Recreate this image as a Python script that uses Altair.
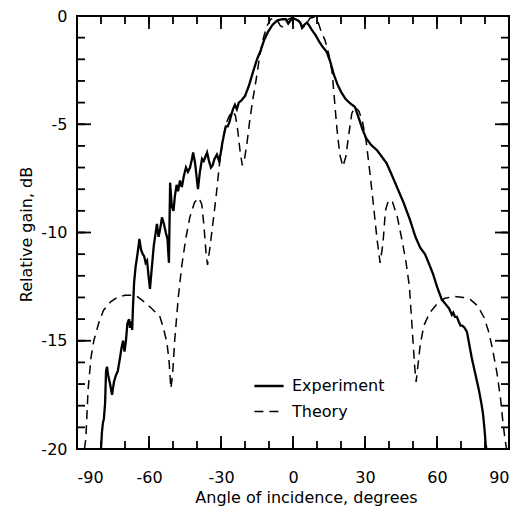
import altair as alt
import pandas as pd

# ---- data ----
exp_x = [-80, -79.6, -79.2, -78.8, -78.3, -77.9, -77.5, -77, -76.2, -75.4, -74.6, -73.8, -73, -72.1,
         -71.4, -70.8, -70.2, -69.6, -69, -68.3, -67.9, -67.4, -67, -66.7, -66.2, -65.6, -64.8, -64,
         -63.3, -62.6, -62, -61.4, -60.8, -60.2, -59.6, -58.8, -58, -57.2, -56.7, -56, -55.3, -54.6,
         -53.8, -53, -52.3, -51.7, -51.2, -50.5, -49.8, -49.2, -48.5, -47.9, -47.1, -46.3, -45.5,
         -44.6, -43.8, -42.9, -42.1, -41.6, -40.8, -40, -39.6, -38.8, -37.9, -37.2, -36.5, -35.8,
         -35, -34.2, -33.5, -32.7, -31.7, -30.8, -30.2, -29.5, -28.8, -28, -27.2, -26.5, -25.8, -25,
         -24.2, -23.4, -22.6, -21.5, -20, -18.3, -16.7, -15, -13.5, -12, -10.5, -8.5, -6.5, -4.5, -3,
         -2, -1, 0, 1, 2, 3, 3.8, 4.8, 5.8, 6.8, 7.9, 9.5, 11, 12.5, 14, 15.5, 17, 18.5, 20, 22, 24,
         25.8, 27.5, 29, 30.5, 32.5, 35, 37, 39, 41, 43.3, 46, 48.7, 51, 53, 55, 56.5, 58.3, 60, 62,
         63.5, 65, 66.2, 66.8, 67.5, 68.3, 69, 69.8, 70.5, 71.5, 72.5, 73.5, 74.5, 75.5, 76.5, 77.5,
         78.5, 79.2, 79.8, 80.3, 80.6]
exp_y = [-20, -19.2, -18.8, -18.6, -17.9, -16.4, -16.2, -16.6, -17.0, -17.5, -16.9, -16.6, -16.4, -15.8,
         -15.3, -15.0, -15.5, -15.0, -14.2, -14.0, -14.4, -14.1, -14.5, -13.5, -12.3, -11.6, -11.0, -10.3,
         -10.8, -11.0, -11.1, -11.4, -11.3, -12.0, -12.6, -11.6, -10.6, -10.0, -9.6, -10.2, -9.8, -9.3,
         -9.6, -10.0, -10.3, -11.4, -7.7, -8.8, -9.0, -8.3, -7.8, -8.1, -7.6, -7.9, -7.4,
         -7.0, -7.2, -7.0, -6.6, -6.3, -6.8, -7.6, -8.0, -7.2, -6.6, -6.7, -6.5, -6.3,
         -6.7, -7.0, -6.9, -6.6, -6.4, -6.7, -6.4, -5.9, -5.5, -5.1, -5.1, -4.9, -4.6, -4.3,
         -4.1, -4.3, -4.0, -3.9, -3.7, -3.2, -2.6, -2.0, -1.6, -1.1, -0.75, -0.4, -0.2, -0.15, -0.15,
         -0.35, -0.2, -0.1, -0.15, -0.2, -0.3, -0.55, -0.4, -0.3, -0.45, -0.65, -0.9, -1.2, -1.45, -1.65,
         -2.1, -2.7, -3.15, -3.5, -3.85, -4.05,
         -4.2, -4.75, -5.25, -5.65, -5.95, -6.2, -6.5, -6.8, -7.3, -7.9, -8.6, -9.4, -10.2, -10.7, -11.0,
         -11.4, -11.9, -12.5, -13.1,
         -13.3, -13.5, -13.8, -13.7, -13.9, -13.9, -14.1, -14.3, -14.3, -14.4, -14.6, -15.2, -15.8, -16.3,
         -16.8, -17.3, -17.9, -18.4, -19.1, -19.8, -20]

th_x = [-86.9, -86.3, -85.4, -84.2, -83, -81, -79, -76, -73.3, -70, -67, -65, -62, -59, -55.4, -53.8,
        -52.5, -51.6, -50.9, -50.2, -49.3, -47.8, -46.3, -44.7, -43, -41, -39.2, -38, -37.1, -36.2,
        -35.6, -34.5, -33.3, -32, -30.8, -29.5, -28, -26.5, -25, -24, -23, -22, -21.1, -20.2, -19.2,
        -18, -16.8, -15.3, -13.8, -12.3, -10.8, -9.3, -8, -6.5, -5.3, -4.5, -3.5, -2, 0, 2, 3.5, 4.5,
        5.5, 7, 9, 10.5, 12, 13.3, 15, 16.3, 17.3, 18.3, 19.5, 20.8, 22, 23.2, 24.5, 25.8, 27.5, 29,
        30.5, 32, 33.3, 35, 36.3, 37.5, 38.5, 39.8, 41.5, 43.5, 45.5, 47, 48.5, 49.7, 50.7, 51.3, 52,
        53, 54.5, 57, 60, 63, 67, 71, 74, 77, 79.5, 81.3, 83, 85, 86.5, 87.5, 88.4, 89]
th_y = [-20, -19.5, -17.3, -15.8, -15.0, -14.2, -13.6, -13.2, -13.0, -12.9, -12.9, -12.95, -13.2, -13.5,
        -13.9, -14.5, -15.1, -16.0, -17.2, -16.6, -15.0, -13.0, -11.5, -10.3, -9.3, -8.6, -8.4, -8.7,
        -9.7, -11.0, -11.5, -10.6, -9.5, -8.3, -7.0, -5.9, -5.0, -4.6, -4.4, -4.6, -5.3, -6.3, -6.9,
        -6.6, -5.9, -4.8, -3.9, -2.9, -1.8, -1.0, -0.45, -0.15, -0.1, -0.2, -0.45, -0.5, -0.4, -0.15,
        -0.05, -0.15, -0.4, -0.5, -0.4, -0.1, -0.05, -0.3, -0.8, -1.1, -1.8, -2.6, -3.9, -5.2, -6.4,
        -6.95, -6.5, -5.5, -4.5, -4.2, -4.4, -4.9, -5.8, -7.2, -8.5, -10.3, -11.4, -10.5, -9.0, -8.5,
        -8.6, -9.3, -10.4, -11.3, -12.5, -14.5, -16.2, -16.9, -16.2, -15.2, -14.3, -13.7, -13.3,
        -13.05, -12.95, -13.0, -13.1, -13.4, -13.9, -14.5, -15.3, -16.5, -17.7, -18.8, -19.6, -20]

series_names = ["Experiment", "Theory"]
x_labels = [-90, -60, -30, 0, 30, 60, 90]
y_labels = [0, -5, -10, -15, -20]
x_minor_ticks = list(range(-80, 90, 10))
y_minor_ticks = list(range(-19, 0, 1))
x_major_ticks = x_labels[1:-1]
y_major_ticks = y_labels[1:-1]

W, H = 432, 433
FONT = "DejaVu Sans"

rows = []
for i, (a, b) in enumerate(zip(exp_x, exp_y)):
    rows.append({"angle": a, "gain": b, "series": series_names[0], "order": i})
for i, (a, b) in enumerate(zip(th_x, th_y)):
    rows.append({"angle": a, "gain": b, "series": series_names[1], "order": i})
df = pd.DataFrame(rows)

xscale = alt.Scale(domain=[-90, 90], nice=False, zero=False)
yscale = alt.Scale(domain=[-20, 0], nice=False, zero=False)

lines = alt.Chart(df).mark_line(clip=True, color="black").encode(
    x=alt.X("angle:Q", scale=xscale,
            axis=alt.Axis(values=x_labels, labelExpr="'' + datum.value", domain=False, ticks=False,
                          grid=False, labelFont=FONT, labelFontSize=16, labelColor="black",
                          labelPadding=20, title="Angle of incidence, degrees", titleFont=FONT,
                          titleFontSize=16, titleFontWeight="normal", titleColor="black",
                          titleX=229, titleY=48, titleBaseline="middle")),
    y=alt.Y("gain:Q", scale=yscale,
            axis=alt.Axis(values=y_labels, labelExpr="'' + datum.value", domain=False, ticks=False,
                          grid=False, labelFont=FONT, labelFontSize=16, labelColor="black",
                          labelPadding=10, title="Relative gain, dB", titleFont=FONT,
                          titleFontSize=16, titleFontWeight="normal", titleColor="black",
                          titleX=-51, titleY=218, titleBaseline="middle", titleAngle=-90)),
    strokeDash=alt.StrokeDash("series:N",
                              scale=alt.Scale(domain=series_names, range=[[1, 0], [9, 6]]),
                              legend=alt.Legend(title=None, orient="none", legendX=176, legendY=354,
                                                labelFont=FONT, labelFontSize=16, labelColor="black",
                                                symbolType="stroke", symbolSize=850,
                                                symbolStrokeColor="black", rowPadding=2,
                                                labelOffset=7)),
    strokeWidth=alt.StrokeWidth("series:N",
                                scale=alt.Scale(domain=series_names, range=[2.3, 1.5]),
                                legend=None),
    detail="series:N",
    order="order:Q",
)

def tick_layer(vals, axis_side, length):
    d = pd.DataFrame({"v": vals})
    base = alt.Chart(d).mark_rule(color="black", strokeWidth=1.8)
    if axis_side == "bottom":
        return base.encode(x=alt.X("v:Q", scale=xscale), y=alt.value(H), y2=alt.value(H - length))
    if axis_side == "top":
        return base.encode(x=alt.X("v:Q", scale=xscale), y=alt.value(0), y2=alt.value(length))
    if axis_side == "left":
        return base.encode(y=alt.Y("v:Q", scale=yscale), x=alt.value(0), x2=alt.value(length))
    return base.encode(y=alt.Y("v:Q", scale=yscale), x=alt.value(W), x2=alt.value(W - length))

ticks = [
    tick_layer(x_minor_ticks, "bottom", 8), tick_layer(x_major_ticks, "bottom", 13),
    tick_layer(x_minor_ticks, "top", 8), tick_layer(x_major_ticks, "top", 13),
    tick_layer(y_minor_ticks, "left", 8), tick_layer(y_major_ticks, "left", 14),
    tick_layer(y_minor_ticks, "right", 8), tick_layer(y_major_ticks, "right", 14),
]

frame = alt.Chart(pd.DataFrame({"f": [0]})).mark_rect(
    fill=None, fillOpacity=0, stroke="black", strokeWidth=2
).encode(x=alt.value(0), x2=alt.value(W), y=alt.value(0), y2=alt.value(H))

chart = alt.layer(*ticks, frame, lines).properties(
    width=W, height=H,
    autosize=alt.AutoSizeParams(type="none"),
    padding={"left": 69, "top": 8, "right": 8, "bottom": 59},
).configure_view(
    stroke=None
).configure(background="white")

chart.save("out.html", embed_options={"renderer": "svg", "actions": False})
